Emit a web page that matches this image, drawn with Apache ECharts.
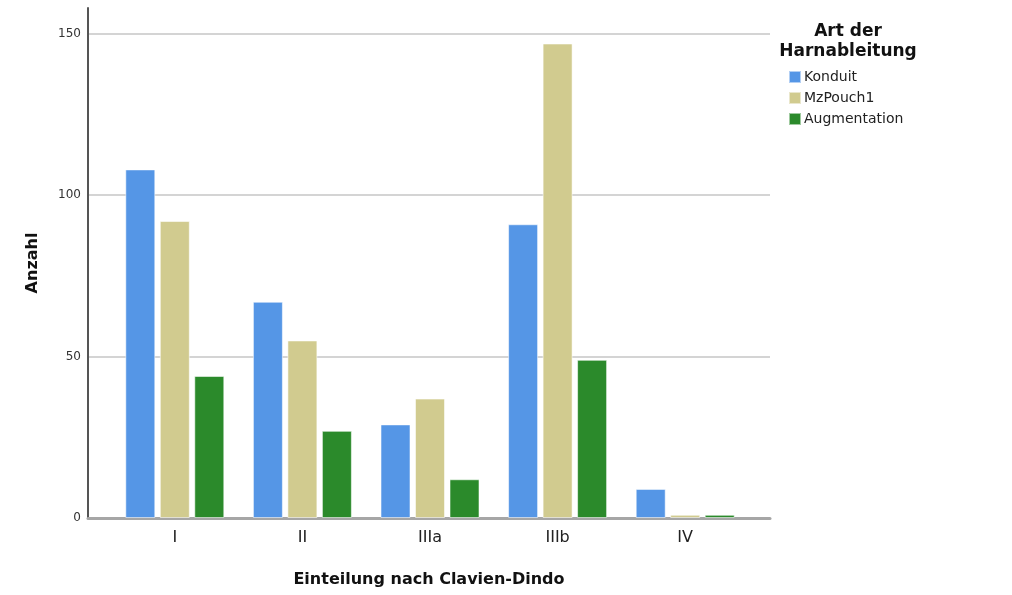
<!DOCTYPE html>
<html>
<head>
<meta charset="utf-8">
<script src="https://cdn.jsdelivr.net/npm/echarts@6/dist/echarts.min.js"></script>
<style>
  html, body { margin: 0; padding: 0; background: #fff; }
  #chart { width: 1012px; height: 595px; }
</style>
</head>
<body>
<div id="chart"></div>
<script>
// Complications by Clavien-Dindo grade, per type of urinary diversion
const categories = ['I', 'II', 'IIIa', 'IIIb', 'IV'];
const seriesNames = ['Konduit', 'MzPouch1', 'Augmentation'];
const konduit = [108, 67, 29, 91, 9];
const mzPouch1 = [92, 55, 37, 147, 1];
const augmentation = [44, 27, 12, 49, 1];
const yTicks = [0, 50, 100, 150];

const colors = ['#5596e6', '#d1cb8f', '#2b8a2b'];
const FONT = 'DejaVu Sans';
const yMax = 158;

const chart = echarts.init(document.getElementById('chart'));

const barStyle = (c) => ({
  color: c,
  borderColor: 'rgba(255,255,255,0.55)',
  borderWidth: 1
});

// gridlines at the labelled ticks only; the top edge stays open
const gridColors = [0, 50, 100, 150, yMax].map(v => yTicks.includes(v) ? '#d4d4d4' : 'rgba(0,0,0,0)');

chart.setOption({
  animation: false,
  textStyle: { fontFamily: FONT },
  title: {
    text: 'Art der\nHarnableitung',
    left: 843,
    top: 17,
    textAlign: 'center',
    textStyle: { fontFamily: FONT, fontSize: 17, fontWeight: 'bold', color: '#111', lineHeight: 20 }
  },
  legend: {
    orient: 'vertical',
    left: 783,
    top: 65,
    itemWidth: 12,
    itemHeight: 12,
    itemGap: 7,
    icon: 'rect',
    data: seriesNames,
    textStyle: { fontFamily: FONT, fontSize: 14, color: '#222', padding: [0, 0, 0, -2] }
  },
  grid: [
    // frame: y axis, gridlines, baseline
    { left: 88, right: 242, top: 8, bottom: 77 },
    // bar area, inset from the frame on both sides
    { left: 111, right: 263, top: 8, bottom: 77 }
  ],
  xAxis: [
    {
      gridIndex: 0, type: 'value', min: 0, max: 1,
      axisLine: { show: true, lineStyle: { color: '#a6a6a6', width: 3 } },
      axisTick: { show: false }, axisLabel: { show: false }, splitLine: { show: false },
      name: 'Einteilung nach Clavien-Dindo',
      nameLocation: 'middle',
      nameGap: 54,
      nameTextStyle: { fontFamily: FONT, fontSize: 16, fontWeight: 'bold', color: '#111' }
    },
    {
      gridIndex: 1, type: 'category', data: categories,
      axisLine: { show: false }, axisTick: { show: false },
      axisLabel: { fontFamily: FONT, fontSize: 16, color: '#222', margin: 12 }
    }
  ],
  yAxis: [
    {
      gridIndex: 0, type: 'value', min: 0, max: yMax,
      interval: 50,
      axisLine: { show: true, lineStyle: { color: '#555', width: 2 } },
      axisTick: { show: false },
      axisLabel: {
        fontFamily: FONT, fontSize: 12, color: '#333', margin: 7,
        formatter: (v) => (yTicks.includes(v) ? String(v) : '')
      },
      splitLine: { show: true, lineStyle: { color: gridColors, width: 2 } },
      name: 'Anzahl',
      nameLocation: 'middle',
      nameGap: 47,
      nameRotate: 90,
      nameTextStyle: { fontFamily: FONT, fontSize: 16, fontWeight: 'bold', color: '#111' }
    },
    {
      gridIndex: 1, type: 'value', min: 0, max: yMax,
      show: false, splitLine: { show: false }
    }
  ],
  series: [
    { name: seriesNames[0], type: 'bar', xAxisIndex: 1, yAxisIndex: 1, data: konduit, barWidth: 30, barGap: '15%', itemStyle: barStyle(colors[0]) },
    { name: seriesNames[1], type: 'bar', xAxisIndex: 1, yAxisIndex: 1, data: mzPouch1, barWidth: 30, barGap: '15%', itemStyle: barStyle(colors[1]) },
    { name: seriesNames[2], type: 'bar', xAxisIndex: 1, yAxisIndex: 1, data: augmentation, barWidth: 30, barGap: '15%', itemStyle: barStyle(colors[2]) }
  ]
});
</script>
</body>
</html>
